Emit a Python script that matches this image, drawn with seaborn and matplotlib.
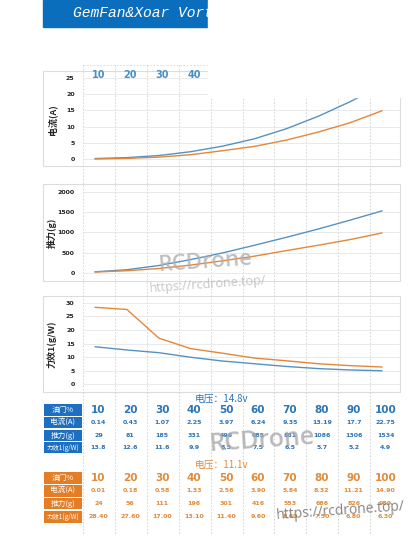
import numpy as np
import pandas as pd
import seaborn as sns
import matplotlib.pyplot as plt
from matplotlib.patches import Rectangle

# chart values
throttle = [10, 20, 30, 40, 50, 60, 70, 80, 90, 100]
cur_148 = [0.14, 0.43, 1.07, 2.25, 3.97, 6.24, 9.35, 13.19, 17.7, 22.75]
thr_148 = [29, 81, 185, 331, 496, 685, 881, 1086, 1306, 1534]
eff_148 = [13.8, 12.6, 11.6, 9.9, 8.5, 7.5, 6.5, 5.7, 5.2, 4.9]
cur_111 = [0.01, 0.18, 0.58, 1.33, 2.56, 3.90, 5.84, 8.32, 11.21, 14.90]
thr_111 = [24, 56, 111, 196, 301, 416, 553, 686, 826, 989]
eff_111 = [28.40, 27.60, 17.00, 13.10, 11.40, 9.60, 8.60, 7.50, 6.80, 6.30]

BLUE = "#5592c4"
ORANGE = "#e3873a"
TBL_BLUE = "#1c6fc1"
TBL_ORANGE = "#e57d24"
W, H = 416, 540

sns.set_theme(style="white")
plt.rcParams["font.family"] = ["Noto Sans CJK SC", "DejaVu Sans"]

fig = plt.figure(figsize=(W / 100, H / 100), dpi=100)


def t_of(px):
    # map a pixel column to throttle units (10 -> px 95, 100 -> px 382)
    return 10 + (px - 95) / 3.19


def px_axes(x0, y0, x1, y1):
    return fig.add_axes([x0 / W, 1 - y1 / H, (x1 - x0) / W, (y1 - y0) / H])


# background axes: dashed column separators and the tables
bg = px_axes(0, 0, W, H)
bg.set_xlim(t_of(0), t_of(W))
bg.set_ylim(H, 0)
bg.axis("off")
bounds = [t_of(83) + 10 * k for k in range(10)]
bg.vlines(bounds, 65, 535, colors="#cfcfcf", linestyles=(0, (2, 2)), lw=0.6)
bg.hlines(65, t_of(83), t_of(208), colors="#d8d8d8", linestyles=(0, (2, 2)), lw=0.6)

for t in throttle[:4]:
    bg.text(t + 1.1, 75, str(t), color="#4a90c8", fontsize=7, fontweight="bold",
            ha="center", va="center", family="DejaVu Sans")

# panel frames
for y0, y1 in [(71, 166), (184, 281), (296, 392)]:
    bg.add_patch(Rectangle((t_of(43), y0), t_of(400) - t_of(43), y1 - y0,
                           fill=False, ec="#dcdcdc", lw=0.8))

panels = [
    (75, 165, (-1.85, 25.93), range(0, 30, 5), "电流(A)", cur_148, cur_111),
    (187, 279, (-148, 2123), range(0, 2500, 500), "推力(g)", thr_148, thr_111),
    (298, 390, (-2.22, 31.85), range(0, 35, 5), "力效1(g/W)", eff_148, eff_111),
]
for y0, y1, ylim, ticks, label, s148, s111 in panels:
    ax = px_axes(83, y0, 400, y1)
    ax.set_facecolor("none")
    df = pd.DataFrame({
        "throttle": throttle + throttle,
        "value": list(s148) + list(s111),
        "voltage": ["14.8v"] * 10 + ["11.1v"] * 10,
    })
    sns.lineplot(data=df, x="throttle", y="value", hue="voltage",
                 palette={"14.8v": BLUE, "11.1v": ORANGE}, legend=False,
                 lw=1.0, ax=ax)
    ax.set_xlim(t_of(83), t_of(400))
    ax.set_ylim(*ylim)
    ax.set_yticks(list(ticks))
    ax.set_yticklabels([str(v) for v in ticks], fontsize=4.5, fontweight="bold",
                       family="DejaVu Sans")
    ax.set_xticks([])
    ax.tick_params(axis="y", length=0, pad=6)
    ax.grid(axis="y", color="#e6e6e6", lw=0.6)
    ax.set_xlabel("")
    ax.set_ylabel(label, fontsize=6.5, fontweight="bold", labelpad=0)
    ax.yaxis.set_label_coords(-0.082, 0.5)
    for s in ax.spines.values():
        s.set_visible(False)

# tables
row_names = ["油门%", "电流(A)", "推力(g)", "力效1(g/W)"]
tables = [
    ("电压：14.8v", 399, [410, 422.5, 435.5, 447.5],
     [(404, 416), (417, 428), (430, 441), (442, 453)], TBL_BLUE, "#2a74b8",
     [str(v) for v in throttle], [str(v) for v in cur_148],
     [str(v) for v in thr_148], [str(v) for v in eff_148]),
    ("电压：11.1v", 465, [478, 491, 503.5, 517],
     [(472, 484), (485, 497), (498, 509), (511, 523)], TBL_ORANGE, "#e08a3a",
     [str(v) for v in throttle], ["%.2f" % v for v in cur_111],
     [str(v) for v in thr_111], ["%.2f" % v for v in eff_111]),
]
for title, ty, rows_y, cells, cell_col, txt_col, *rows in tables:
    bg.text(t_of(222), ty, title, color=txt_col, fontsize=7, ha="center", va="center")
    for i, (yc, (c0, c1), vals) in enumerate(zip(rows_y, cells, rows)):
        bg.add_patch(Rectangle((t_of(44), c0), t_of(82) - t_of(44), c1 - c0,
                               color=cell_col, lw=0))
        bg.text(t_of(63), yc, row_names[i], color="white",
                fontsize=4.6 if i == 3 else 5.5, ha="center", va="center")
        for t, v in zip(throttle, vals):
            bg.text(t + 1.1, yc, v, color=txt_col,
                    fontsize=7.5 if i == 0 else 4.5, fontweight="bold",
                    ha="center", va="center", family="DejaVu Sans")

# title banner, partly hidden by a white block as in the source image
fig.patches.append(Rectangle((43 / W, 1 - 27 / H), 165 / W, 27 / H, color="#0a6ebd",
                             transform=fig.transFigure, zorder=5))
fig.text(73 / W, 1 - 13 / H, "GemFan&Xoar Vortex", color="white", fontsize=10.5,
         style="italic", family="Liberation Mono", va="center", zorder=6)
fig.patches.append(Rectangle((208 / W, 1 - 97 / H), (W - 208) / W, 97 / H,
                             color="white", transform=fig.transFigure, zorder=10))

# watermarks
wm = dict(transform=fig.transFigure, zorder=20, ha="center", va="center",
          family="Open Sans", rotation=4)
fig.text(206 / W, 1 - 262 / H, "RCDrone", fontsize=16, color="#b0b0b0", alpha=0.8,
         fontweight="semibold", **wm)
fig.text(208 / W, 1 - 284 / H, "https://rcdrone.top/", fontsize=9, color="#b8b8b8",
         alpha=0.8, **wm)
fig.text(262 / W, 1 - 441 / H, "RCDrone", fontsize=18, color="#a8a8a8", alpha=0.8,
         fontweight="semibold", **wm)
fig.text(341 / W, 1 - 511 / H, "https://rcdrone.top/", fontsize=10, color="#777777",
         alpha=0.9, **wm)

fig.savefig("out.png", dpi=100)
